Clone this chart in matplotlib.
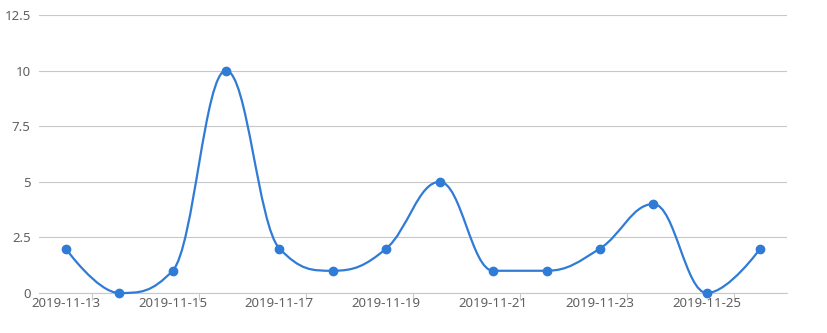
import numpy as np
import matplotlib
matplotlib.use("Agg")
import matplotlib.pyplot as plt
from matplotlib.path import Path
from matplotlib.patches import PathPatch

dates = ["2019-11-13", "2019-11-14", "2019-11-15", "2019-11-16", "2019-11-17",
         "2019-11-18", "2019-11-19", "2019-11-20", "2019-11-21", "2019-11-22",
         "2019-11-23", "2019-11-24", "2019-11-25", "2019-11-26"]
values = [2, 0, 1, 10, 2, 1, 2, 5, 1, 1, 2, 4, 0, 2]

line_color = "#2f7bd6"
grid_color = "#c8c8c8"
text_color = "#606060"

plt.rcParams['font.family'] = ['Noto Sans', 'DejaVu Sans']

fig = plt.figure(figsize=(8.28, 3.33), dpi=100)
ax = fig.add_axes([39 / 828, 1 - 293 / 333, 748 / 828, 278 / 333])

n = len(values)
xs = np.arange(n)
ax.set_xlim(-0.5, n - 0.5)
ax.set_ylim(0, 12.5)
ax.set_yticks([0, 2.5, 5, 7.5, 10, 12.5])
ax.set_yticklabels(["0", "2.5", "5", "7.5", "10", "12.5"])
ax.grid(axis="y", color=grid_color, linewidth=0.8)
ax.set_axisbelow(True)
for s in ["top", "right", "left"]:
    ax.spines[s].set_visible(False)
ax.spines["bottom"].set_color(grid_color)
ax.spines["bottom"].set_linewidth(0.8)
ax.tick_params(axis="y", length=0, pad=6, labelsize=9.5, labelcolor=text_color)

# tick marks on every other category boundary, labels on every other category
ax.set_xticks(np.arange(0.5, n - 0.5, 2))
ax.set_xticklabels([])
ax.set_xticks(xs[::2], minor=True)
ax.set_xticklabels(dates[::2], minor=True)
ax.tick_params(axis="x", which="major", length=5, color=grid_color, width=0.8)
ax.tick_params(axis="x", which="minor", length=0, pad=3, labelsize=9.5, labelcolor=text_color)

# spline: control points like a highcharts spline (no overshoot past neighbours)
sm = 1.5
den = sm + 1
xf = xs.astype(float)
yf = np.array(values, dtype=float)
right_c = [None] * n
left_c = [None] * n
for i in range(1, n - 1):
    px, py = xf[i], yf[i]
    lx, ly = xf[i - 1], yf[i - 1]
    nx, ny = xf[i + 1], yf[i + 1]
    lcx = (sm * px + lx) / den
    lcy = (sm * py + ly) / den
    rcx = (sm * px + nx) / den
    rcy = (sm * py + ny) / den
    corr = (rcy - lcy) * (rcx - px) / (rcx - lcx) + py - rcy
    lcy += corr
    rcy += corr
    if lcy > ly and lcy > py:
        lcy = max(ly, py)
        rcy = 2 * py - lcy
    elif lcy < ly and lcy < py:
        lcy = min(ly, py)
        rcy = 2 * py - lcy
    if rcy > ny and rcy > py:
        rcy = max(ny, py)
        lcy = 2 * py - rcy
    elif rcy < ny and rcy < py:
        rcy = min(ny, py)
        lcy = 2 * py - rcy
    left_c[i] = (lcx, lcy)
    right_c[i] = (rcx, rcy)

verts = [(xf[0], yf[0])]
codes = [Path.MOVETO]
for i in range(1, n):
    c1 = right_c[i - 1] if right_c[i - 1] is not None else (xf[i - 1], yf[i - 1])
    c2 = left_c[i] if left_c[i] is not None else (xf[i], yf[i])
    verts += [c1, c2, (xf[i], yf[i])]
    codes += [Path.CURVE4] * 3
path = Path(np.array(verts), codes)
ax.add_patch(PathPatch(path, facecolor="none", edgecolor=line_color, linewidth=1.6,
                       zorder=3, clip_on=False))
ax.plot(xs, values, linestyle="none", marker="o", markersize=6, color=line_color,
        zorder=4, clip_on=False)

fig.savefig("out.png", dpi=100)
